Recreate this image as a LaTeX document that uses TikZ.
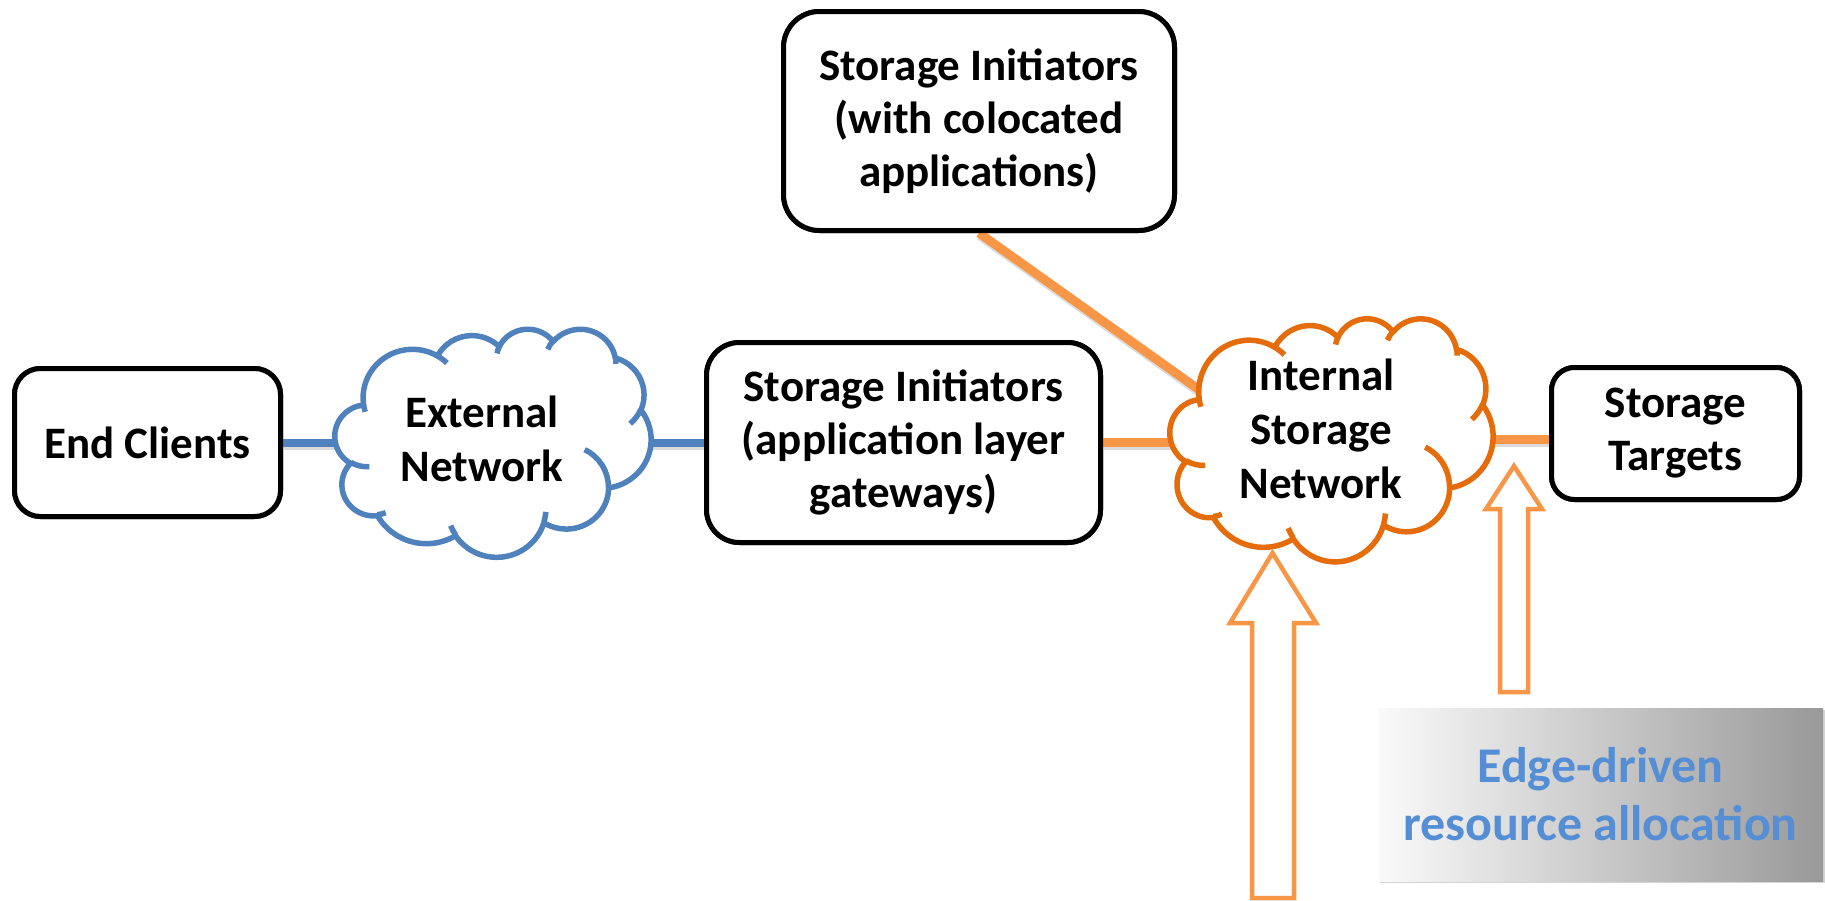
\documentclass[tikz,border=0pt]{standalone}
\usepackage{fontspec}
\setmainfont{Carlito}
\usetikzlibrary{shadows}
\definecolor{cblue}{RGB}{79,129,189}
\definecolor{corange}{RGB}{228,108,10}
\definecolor{lorange}{RGB}{247,150,70}
\definecolor{tblue}{RGB}{85,142,213}
\tikzset{
  oarc/.style n args={4}{insert path={arc[x radius=#1, y radius=#2,
     start angle={atan2((#1)*sin(#3),(#2)*cos(#3))},
     end angle={atan2((#1)*sin((#3)+(#4)),(#2)*cos((#3)+(#4)))+360*ceil((atan2((#1)*sin(#3),(#2)*cos(#3))-atan2((#1)*sin((#3)+(#4)),(#2)*cos((#3)+(#4))))/360)}]}},
  box/.style={draw=black, line width=5pt, fill=white, align=center,
     font=\fontsize{45}{53}\selectfont\bfseries, inner sep=0pt},
  cloudlbl/.style={align=center, font=\fontsize{45}{54}\selectfont\bfseries, inner sep=0pt},
  cloudarea/.style={inner sep=0pt, outer sep=0pt},
  bline/.style={draw=cblue, line width=8pt},
  oline/.style={draw=lorange, line width=9pt},
  lshadow/.style={draw=black!35, opacity=0.4, line width=8pt},
  blockarrow/.style={draw=lorange, line width=4.5pt, fill=white, line join=miter},
  edgebox/.style={minimum width=445pt, minimum height=173pt, inner sep=0pt,
     left color=black!2, right color=black!40, align=center, text=tblue,
     font=\fontsize{50}{58}\selectfont\bfseries,
     drop shadow={shadow xshift=1.5pt, shadow yshift=-1.5pt, opacity=0.35}}
}
\newcommand\officecloud[5]{%
  \pgfmathsetmacro\ocsx{#3/432}\pgfmathsetmacro\ocsy{#4/432}%
  \begin{scope}[shift={(#1,#2)}, xscale=\ocsx, yscale=\ocsy]
    \draw[#5, line width=5.5pt, fill=white, line join=round] (39.00,143.70)
      [oarc={67.53}{91.90}{-190.487}{123.781}]
      [oarc={53.33}{72.67}{-144.102}{89.945}]
      [oarc={43.65}{59.45}{-145.808}{99.723}]
      [oarc={48.57}{65.95}{-130.986}{117.242}]
      [oarc={53.33}{72.73}{-78.709}{109.027}]
      [oarc={67.75}{92.20}{-46.267}{130.269}]
      [oarc={57.85}{78.67}{0.625}{114.033}]
      [oarc={67.52}{92.15}{22.452}{115.173}]
      [oarc={77.20}{105.43}{66.243}{75.711}]
      [oarc={43.60}{59.18}{-274.942}{146.736}]
      [oarc={43.45}{59.45}{-246.829}{152.519}]
      -- cycle;
    \draw[#5, line width=5.5pt, line cap=butt]
      (46.93,261.77) [oarc={43.45}{59.45}{86.742}{26.430}]
      (69.28,348.99) [oarc={43.60}{59.18}{73.610}{11.447}]
      (164.78,390.90) [oarc={67.52}{92.15}{137.624}{14.081}]
      (288.27,347.51) [oarc={67.52}{92.15}{6.453}{15.998}]
      (341.29,229.54) [oarc={57.85}{78.67}{-70.292}{70.917}]
      (417.98,153.54) [oarc={53.33}{72.73}{30.318}{27.752}]
      (383.24,54.26) [oarc={48.57}{65.95}{-13.744}{14.859}]
      (290.78,39.52) [oarc={48.57}{65.95}{-149.181}{18.195}]
      (221.41,47.20) [oarc={43.65}{59.45}{-163.494}{17.686}]
      (140.00,51.92) [oarc={67.53}{91.90}{-66.707}{12.319}]
      (41.27,157.89) [oarc={67.53}{91.90}{157.654}{11.858}];
  \end{scope}}
\begin{document}
\begin{tikzpicture}[x=1pt, y=1pt, yscale=-1]
\useasboundingbox (0,0) rectangle (1825,900);
% areas of the clouds
\node[cloudarea, minimum width=316pt, minimum height=228pt] (ext) at (493,442.5) {};
\node[cloudarea, minimum width=323pt, minimum height=243pt] (int) at (1331.5,439.5) {};
\coordinate (cend) at (1215,401);
% boxes (placed first for anchors, drawn later)
\path (147.5,442.5) node[box, minimum width=266pt, minimum height=148pt, rounded corners=26pt] (ec) {End Clients};
\path (903.5,442.5) node[box, minimum width=394pt, minimum height=200pt, rounded corners=33pt] (si) {Storage Initiators\\(application layer\\gateways)};
\path (979,121) node[box, minimum width=391pt, minimum height=219pt, rounded corners=36pt] (coloc) {Storage Initiators\\(with colocated\\applications)};
\path (1675.5,433.5) node[box, minimum width=248pt, minimum height=132pt, rounded corners=23pt] (st) {Storage\\Targets};
% connector shadows
\begin{scope}[transform canvas={xshift=1pt, yshift=-3pt}]
\draw[lshadow] (ec.east) -- (ext.center);
\draw[lshadow] (ext.center) -- (si.west);
\draw[lshadow, line width=9pt] (si.east) -- (si.east -| int.center);
\draw[lshadow, line width=9pt] (coloc.south) -- (cend);
\draw[lshadow, line width=9pt] (int.center) -- (int.center -| st.west);
\end{scope}
% connectors
\draw[bline] (ec.east) -- (ext.center);
\draw[bline] (ext.center) -- (si.west);
\draw[oline] (si.east) -- (si.east -| int.center);
\draw[oline] (coloc.south) -- (cend);
\draw[oline] (int.center) -- (int.center -| st.west);
% redraw boxes on top of connectors
\path (147.5,442.5) node[box, minimum width=266pt, minimum height=148pt, rounded corners=26pt] {End Clients};
\path (903.5,442.5) node[box, minimum width=394pt, minimum height=200pt, rounded corners=33pt] {Storage Initiators\\(application layer\\gateways)};
\path (979,121) node[box, minimum width=391pt, minimum height=219pt, rounded corners=36pt] {Storage Initiators\\(with colocated\\applications)};
\path (1675.5,433.5) node[box, minimum width=248pt, minimum height=132pt, rounded corners=23pt] {Storage\\Targets};
% clouds
\officecloud{335}{328.5}{316}{228}{cblue}
\officecloud{1170}{318}{323}{243}{corange}
\node[cloudlbl] (extlbl) at (482,438.5) {External\\Network};
\node[cloudlbl] (intlbl) at (1321,429) {Internal\\Storage\\Network};
% block arrows
\draw[blockarrow] (1272.5,553) -- (1316,623) -- (1294,623) -- (1294,898) -- (1252,898) -- (1252,623) -- (1230,623) -- cycle;
\draw[blockarrow] (1514,466) -- (1542,509) -- (1528,509) -- (1528,692) -- (1500,692) -- (1500,509) -- (1486,509) -- cycle;
% edge-driven box
\node[edgebox] (edge) at (1600.5,794.5) {Edge-driven\\resource allocation};
\end{tikzpicture}
\end{document}
